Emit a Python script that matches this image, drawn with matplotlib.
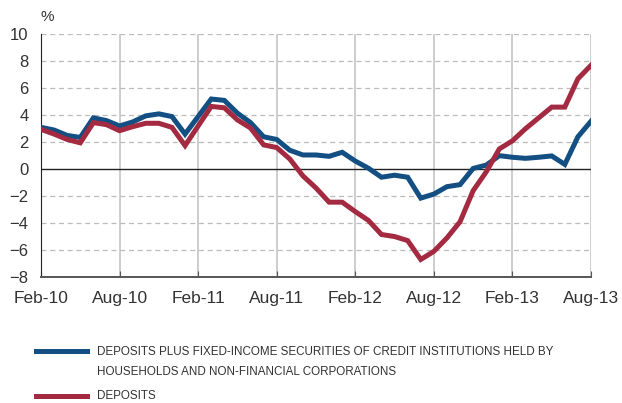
import matplotlib
matplotlib.use('Agg')
import matplotlib.pyplot as plt
from matplotlib.lines import Line2D
import numpy as np

# monthly series, Feb-10 .. Aug-13 (43 points), % year-on-year
months = 43
deposits_plus = [3.1, 2.9, 2.5, 2.35, 3.8, 3.6, 3.2, 3.5, 3.95, 4.1, 3.9, 2.6,
                 3.9, 5.2, 5.1, 4.15, 3.45, 2.4, 2.2, 1.4, 1.05, 1.05, 0.95, 1.25,
                 0.6, 0.07, -0.6, -0.45, -0.6, -2.15, -1.85, -1.3, -1.15, 0.05,
                 0.3, 1.0, 0.88, 0.8, 0.88, 0.98, 0.35, 2.4, 3.55]
deposits = [2.95, 2.6, 2.2, 1.95, 3.45, 3.3, 2.85, 3.15, 3.4, 3.4, 3.1, 1.75,
            3.2, 4.65, 4.55, 3.65, 3.05, 1.8, 1.6, 0.75, -0.5, -1.4, -2.45, -2.45,
            -3.15, -3.8, -4.85, -5.0, -5.3, -6.7, -6.1, -5.1, -3.9, -1.6,
            -0.2, 1.5, 2.1, 3.0, 3.8, 4.6, 4.6, 6.7, 7.7]
tick_labels = ['Feb-10', 'Aug-10', 'Feb-11', 'Aug-11', 'Feb-12', 'Aug-12', 'Feb-13', 'Aug-13']
label_plus = ('DEPOSITS PLUS FIXED-INCOME SECURITIES OF CREDIT INSTITUTIONS HELD BY\n'
              'HOUSEHOLDS AND NON-FINANCIAL CORPORATIONS')
label_dep = 'DEPOSITS'

blue = '#134F82'
red = '#A32A40'
txt = '#333333'

plt.rcParams['font.family'] = ['Liberation Sans', 'DejaVu Sans']

fig = plt.figure(figsize=(6.22, 4.03), dpi=100)
ax = fig.add_axes([41/622, 1-277/403, 550/622, (277-34.3)/403])

x = np.arange(months)
ax.plot(x, deposits_plus, color=blue, lw=3.6, solid_joinstyle='miter', zorder=3)
ax.plot(x, deposits, color=red, lw=3.6, solid_joinstyle='miter', zorder=3)

ax.set_xlim(0, months - 1)
ax.set_ylim(-8, 10)
ax.set_yticks(range(-8, 11, 2))
ax.set_xticks(np.arange(0, months, 6))
ax.set_xticklabels(tick_labels)

for yv in range(-6, 11, 2):
    if yv != 0:
        ax.axhline(yv, color='#bbbbbb', lw=0.9, ls=(0, (4, 3)), zorder=1)
ax.axhline(0, color='#222222', lw=1.0, zorder=2)
for xv in np.arange(6, months, 6):
    ax.axvline(xv, color='#c0c0c0', lw=1.1, zorder=1)

for s in ['top', 'right']:
    ax.spines[s].set_visible(False)
ax.spines['left'].set_color('#222222')
ax.spines['bottom'].set_color('#555555')
ax.spines['bottom'].set_linewidth(1.4)
ax.tick_params(axis='y', length=0, pad=9, labelsize=12, labelcolor=txt)
ax.tick_params(axis='x', length=4, direction='in', color='#555555', pad=10,
               labelsize=12.5, labelcolor=txt)

fig.text(41/622, 1-17/403, '%', fontsize=11, color=txt, va='center', ha='left')

# legend
fig.add_artist(Line2D([36/622, 87/622], [1-351/403]*2, color=blue, lw=3.6,
                      transform=fig.transFigure))
fig.add_artist(Line2D([36/622, 87/622], [1-396/403]*2, color=red, lw=3.6,
                      transform=fig.transFigure))
fig.text(97/622, 1-362/403, label_plus, fontsize=8.4, color=txt, va='center', ha='left',
         linespacing=1.8)
fig.text(97/622, 1-396/403, label_dep, fontsize=8.4, color=txt, va='center', ha='left')

fig.savefig('out.png', dpi=100)
